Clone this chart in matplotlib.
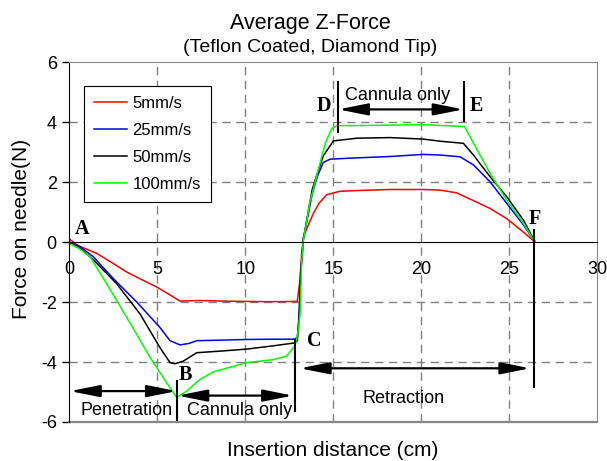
import matplotlib.pyplot as plt

plt.rcParams['font.family'] = ['Liberation Sans', 'DejaVu Sans']
plt.rcParams['axes.unicode_minus'] = False

# valores
x_5 = [0, 0.5, 1.56, 2.4, 3.26, 4.1, 4.97, 5.6, 6.29, 7.43, 8.7, 10.0, 11.5, 12.95, 13.1, 13.2, 13.3,
       13.87, 14.2, 14.63, 15.38, 16.5, 18.22, 20.1, 21.06, 22.0, 22.96, 23.9, 24.85, 25.8, 26.46]
y_5 = [0.1, -0.12, -0.38, -0.68, -1.0, -1.25, -1.5, -1.72, -1.97, -1.95, -1.97, -1.98, -1.99, -1.98, -1.3, -0.4, 0.18,
       0.96, 1.3, 1.58, 1.69, 1.72, 1.75, 1.75, 1.73, 1.64, 1.38, 1.12, 0.78, 0.33, 0.0]

x_25 = [0, 0.6, 1.36, 2.5, 3.83, 5.15, 5.72, 6.29, 6.8, 7.24, 8.73, 10.0, 11.5, 12.73, 12.95, 13.05, 13.15, 13.3,
        13.8, 14.1, 14.43, 14.81, 15.76, 18.22, 20.1, 21.06, 22.2, 22.96, 23.9, 24.85, 25.8, 26.46]
y_25 = [0, -0.15, -0.49, -1.22, -2.0, -2.85, -3.29, -3.43, -3.38, -3.29, -3.27, -3.25, -3.24, -3.24, -3.2, -2.5, -1.0, 0.1,
        1.6, 2.2, 2.65, 2.76, 2.79, 2.85, 2.92, 2.9, 2.84, 2.57, 2.01, 1.29, 0.57, 0]

x_50 = [0, 0.6, 1.38, 2.69, 4.02, 5.15, 5.72, 6.0, 6.48, 7.24, 8.75, 10.08, 11.6, 12.73, 12.95, 13.05, 13.15, 13.3,
        13.8, 14.1, 14.43, 15.0, 16.33, 18.22, 20.1, 21.06, 22.39, 22.96, 23.9, 24.85, 25.8, 26.46]
y_50 = [-0.02, -0.2, -0.6, -1.39, -2.4, -3.52, -4.02, -4.06, -3.97, -3.69, -3.63, -3.57, -3.46, -3.37, -3.3, -2.6, -1.0, 0.1,
        1.75, 2.3, 2.87, 3.37, 3.46, 3.48, 3.43, 3.36, 3.29, 2.9, 2.18, 1.51, 0.73, 0]

x_100 = [0, 0.5, 1.18, 2.12, 3.26, 4.59, 5.72, 6.1, 6.67, 7.43, 8.18, 10.08, 11.6, 12.35, 12.82, 13.01, 13.11, 13.2,
         13.3, 13.68, 14.15, 14.55, 14.9, 15.2, 16.33, 20.11, 22.45, 23.9, 24.85, 25.8, 26.46]
y_100 = [-0.05, -0.2, -0.49, -1.39, -2.51, -3.85, -4.86, -5.18, -4.97, -4.58, -4.33, -4.02, -3.92, -3.8, -3.46, -2.96, -2.4, -0.65,
         0.07, 1.35, 2.42, 3.3, 3.78, 3.88, 3.88, 3.91, 3.85, 2.29, 1.4, 0.62, 0]

series_labels = ['5mm/s', '25mm/s', '50mm/s', '100mm/s']
series_colors = ['#ff0000', '#0000ff', '#000000', '#00ff00']

fig = plt.figure(figsize=(6.07, 4.61), dpi=100)
ax = fig.add_axes([0.1142, 0.0846, 0.8699, 0.7809])

# grade tracejada
grid_style = dict(color='#808080', lw=1, ls=(0, (6, 4)), zorder=0)
for gx in [5, 10, 15, 20, 25]:
    ax.axvline(gx, **grid_style)
for gy in [-4, -2, 2, 4]:
    ax.axhline(gy, **grid_style)

# curvas
for xs, ys, lab, cor in zip([x_5, x_25, x_50, x_100], [y_5, y_25, y_50, y_100], series_labels, series_colors):
    ax.plot(xs, ys, color=cor, lw=1.1, label=lab)

ax.set_xlim(0, 30)
ax.set_ylim(-6, 6)
ax.set_xticks([0, 5, 10, 15, 20, 25, 30])
ax.set_yticks([-6, -4, -2, 0, 2, 4, 6])

ax.spines['bottom'].set_position(('data', 0))
ax.spines['bottom'].set_color('black')
ax.spines['left'].set_color('black')
for s in ['top', 'right']:
    ax.spines[s].set_color('#888888')
ax.axhline(-6, color='#888888', lw=1.6, clip_on=False)

ax.tick_params(axis='x', length=0, pad=14, labelsize=13)
ax.tick_params(axis='y', direction='out', length=5, width=1, pad=4, labelsize=13)

leg = ax.legend(loc='upper left', bbox_to_anchor=(0.028, 0.933), borderaxespad=0, fontsize=12,
                handlelength=2.0, handletextpad=0.3, labelspacing=0.72, borderpad=0.6,
                fancybox=False, edgecolor='black', framealpha=1)
leg.get_frame().set_linewidth(0.8)

# titulos e rotulos
fig.text(310 / 607, 1 - 24 / 461, 'Average Z-Force', ha='center', va='center', fontsize=15.5)
fig.text(310 / 607, 1 - 47 / 461, '(Teflon Coated, Diamond Tip)', ha='center', va='center', fontsize=14)
fig.text(333 / 607, 1 - 450 / 461, 'Insertion distance (cm)', ha='center', va='center', fontsize=15)
fig.text(22 / 607, 1 - 229 / 461, 'Force on needle(N)', ha='center', va='center', rotation=90, fontsize=15)

# letras dos pontos
letras = {'A': (0.75, 0.45), 'B': (6.57, -4.42), 'C': (13.93, -3.3),
          'D': (14.44, 4.52), 'E': (23.14, 4.52), 'F': (26.46, 0.77)}
for letra, (lx, ly) in letras.items():
    ax.text(lx, ly, letra, family='Liberation Serif', weight='bold', fontsize=14.5, ha='center', va='center')

# linhas verticais de marcacao
marcas = [(6.12, -4.63, -5.93), (12.85, -3.25, -5.65), (15.28, 5.35, 3.68), (22.42, 5.35, 4.05), (26.42, 0.4, -4.83)]
for mx, y0, y1 in marcas:
    ax.plot([mx, mx], [y0, y1], color='black', lw=1.5)

# setas
seta = dict(arrowstyle='<|-|>,head_length=0.9,head_width=0.18', color='black', lw=1.6,
            shrinkA=0, shrinkB=0, mutation_scale=20)
ax.annotate('', xy=(0.04, -4.97), xytext=(6.1, -4.97), arrowprops=seta)
ax.annotate('', xy=(6.15, -5.12), xytext=(12.7, -5.12), arrowprops=seta)
ax.annotate('', xy=(13.1, -4.21), xytext=(26.18, -4.21), arrowprops=seta)
ax.annotate('', xy=(15.28, 4.42), xytext=(22.39, 4.42), arrowprops=seta)

ax.text(3.28, -5.62, 'Penetration', ha='center', va='center', fontsize=13)
ax.text(9.67, -5.62, 'Cannula only', ha='center', va='center', fontsize=13)
ax.text(19.0, -5.22, 'Retraction', ha='center', va='center', fontsize=13)
ax.text(18.65, 4.9, 'Cannula only', ha='center', va='center', fontsize=13)

fig.savefig('out.png', dpi=100)
